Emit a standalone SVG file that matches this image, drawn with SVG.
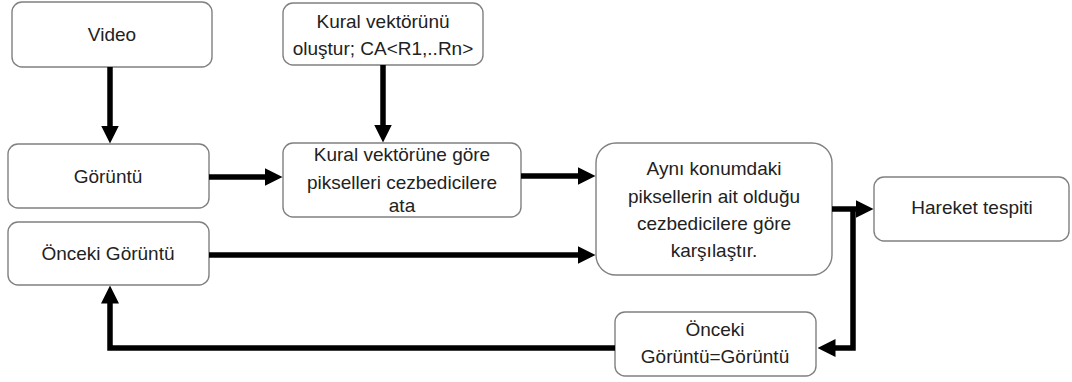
<svg xmlns="http://www.w3.org/2000/svg" width="1072" height="382" viewBox="0 0 1072 382">
  <style>
    .box { fill: #ffffff; stroke: #808080; stroke-width: 1.4; }
    .lbl { font-family: "Liberation Sans", Arial, sans-serif; font-size: 19px; fill: #222222; text-anchor: middle; }
    .wire { fill: none; stroke: #000000; stroke-width: 5.5; stroke-linejoin: miter; }
  </style>
  <defs>
    <marker id="head" markerUnits="userSpaceOnUse" markerWidth="18" markerHeight="18" viewBox="0 0 18 18" refX="0.5" refY="9" orient="auto">
      <path d="M0,0 L18,9 L0,18 Z" fill="#000000"/>
    </marker>
  </defs>
  <rect width="1072" height="382" fill="#ffffff"/>

  <g id="video">
    <rect class="box" x="12" y="2" width="200" height="65" rx="10"/>
    <text class="lbl" x="112" y="41">Video</text>
  </g>

  <g id="kural-vektoru">
    <rect class="box" x="283" y="3" width="200" height="62" rx="10"/>
    <text class="lbl" x="383" y="28">Kural vektörünü</text>
    <text class="lbl" x="383" y="55">oluştur; CA&lt;R1,..Rn&gt;</text>
  </g>

  <g id="goruntu">
    <rect class="box" x="8" y="144" width="201" height="64" rx="10"/>
    <text class="lbl" x="108" y="183">Görüntü</text>
  </g>

  <g id="onceki-goruntu">
    <rect class="box" x="8" y="222" width="201" height="63" rx="10"/>
    <text class="lbl" x="108" y="260">Önceki Görüntü</text>
  </g>

  <g id="ata">
    <rect class="box" x="283" y="143" width="238" height="74" rx="10"/>
    <text class="lbl" x="402" y="161">Kural vektörüne göre</text>
    <text class="lbl" x="402" y="189">pikselleri cezbedicilere</text>
    <text class="lbl" x="402" y="212">ata</text>
  </g>

  <g id="karsilastir">
    <rect class="box" x="596" y="143" width="236" height="132" rx="20"/>
    <text class="lbl" x="714" y="175">Aynı konumdaki</text>
    <text class="lbl" x="714" y="203">piksellerin ait olduğu</text>
    <text class="lbl" x="714" y="230">cezbedicilere göre</text>
    <text class="lbl" x="714" y="257">karşılaştır.</text>
  </g>

  <g id="hareket">
    <rect class="box" x="874" y="177" width="195" height="64" rx="10"/>
    <text class="lbl" x="972" y="214">Hareket tespiti</text>
  </g>

  <g id="guncelle">
    <rect class="box" x="615" y="312" width="201" height="64" rx="10"/>
    <text class="lbl" x="715" y="336">Önceki</text>
    <text class="lbl" x="715" y="363">Görüntü=Görüntü</text>
  </g>

  <g id="connectors">
    <path class="wire" d="M110,67 V126" marker-end="url(#head)"/>
    <path class="wire" d="M383,65 V125" marker-end="url(#head)"/>
    <path class="wire" d="M209,177 H265" marker-end="url(#head)"/>
    <path class="wire" d="M521,176 H578" marker-end="url(#head)"/>
    <path class="wire" d="M209,255 H578" marker-end="url(#head)"/>
    <path class="wire" d="M832,209 H856" marker-end="url(#head)"/>
    <path class="wire" d="M853,211 V348 H835" marker-end="url(#head)"/>
    <path class="wire" d="M615,348 H110 V303" marker-end="url(#head)"/>
  </g>
</svg>
